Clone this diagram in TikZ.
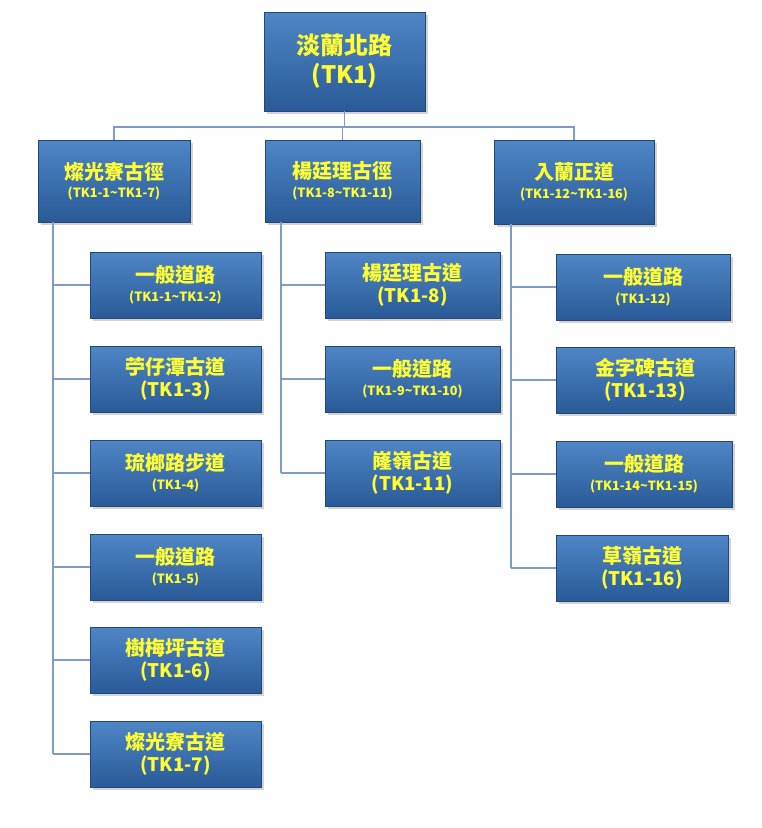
\documentclass[tikz,border=0pt]{standalone}
\usepackage{fontspec}
\newfontfamily\cjk{Noto Sans CJK TC}
\usetikzlibrary{shadows}
\definecolor{BoxTop}{HTML}{4F86C6}
\definecolor{BoxBot}{HTML}{2A5A98}
\definecolor{Wire}{HTML}{7F9CC8}
\definecolor{Label}{HTML}{FFFF33}
\tikzset{
  % blue boxes with yellow text
  tbox/.style={
    draw=BoxBot!80!black,thin,
    top color=BoxTop,bottom color=BoxBot,
    drop shadow={opacity=.35,shadow xshift=.5ex,shadow yshift=-.5ex},
    text=Label,align=center,inner sep=0pt,
    font=\cjk\bfseries,
  },
  wire/.style={Wire,thick},
}
\newcommand{\twobig}[2]{{\fontsize{15}{20}\selectfont #1}\\[2pt]{\fontsize{14}{18}\selectfont #2}}
\newcommand{\twosml}[2]{{\fontsize{15}{20}\selectfont #1}\\[2pt]{\fontsize{9.5}{12}\selectfont #2}}
\begin{document}
\begin{tikzpicture}[x=0.75pt,y=-0.75pt]
  \useasboundingbox (0,0) rectangle (762,828);
  % root
  \node[tbox,minimum width=161*0.75pt,minimum height=99*0.75pt] (root) at (344.5,61.5)
    {{\fontsize{18}{24}\selectfont 淡蘭北路}\\[4pt]{\fontsize{18}{24}\selectfont (TK1)}};
  % level one
  \node[tbox,minimum width=152*0.75pt,minimum height=82*0.75pt] (gl) at (114,181) {\twosml{燦光寮古徑}{(TK1-1\textasciitilde TK1-7)}};
  \node[tbox,minimum width=155*0.75pt,minimum height=82*0.75pt] (yl) at (342.5,181) {\twosml{楊廷理古徑}{(TK1-8\textasciitilde TK1-11)}};
  \node[tbox,minimum width=160*0.75pt,minimum height=84*0.75pt] (rl) at (574,182) {\twosml{入蘭正道}{(TK1-12\textasciitilde TK1-16)}};
  % left branch
  \node[tbox,minimum width=171*0.75pt,minimum height=66*0.75pt] (g1) at (175.5,285) {\twosml{一般道路}{(TK1-1\textasciitilde TK1-2)}};
  \node[tbox,minimum width=171*0.75pt,minimum height=66*0.75pt] (g2) at (175.5,379) {\twobig{苧仔潭古道}{(TK1-3)}};
  \node[tbox,minimum width=171*0.75pt,minimum height=66*0.75pt] (g3) at (175.5,473) {\twosml{琉榔路步道}{(TK1-4)}};
  \node[tbox,minimum width=171*0.75pt,minimum height=66*0.75pt] (g4) at (175.5,567) {\twosml{一般道路}{(TK1-5)}};
  \node[tbox,minimum width=171*0.75pt,minimum height=66*0.75pt] (g5) at (175.5,660) {\twobig{樹梅坪古道}{(TK1-6)}};
  \node[tbox,minimum width=171*0.75pt,minimum height=66*0.75pt] (g6) at (175.5,754) {\twobig{燦光寮古道}{(TK1-7)}};
  % middle branch
  \node[tbox,minimum width=175*0.75pt,minimum height=66*0.75pt] (y1) at (412.5,285) {\twobig{楊廷理古道}{(TK1-8)}};
  \node[tbox,minimum width=175*0.75pt,minimum height=66*0.75pt] (y2) at (412.5,379) {\twosml{一般道路}{(TK1-9\textasciitilde TK1-10)}};
  \node[tbox,minimum width=175*0.75pt,minimum height=66*0.75pt] (y3) at (412.5,473) {\twobig{嶐嶺古道}{(TK1-11)}};
  % right branch
  \node[tbox,minimum width=174*0.75pt,minimum height=66*0.75pt] (r1) at (643,287) {\twosml{一般道路}{(TK1-12)}};
  \node[tbox,minimum width=178*0.75pt,minimum height=66*0.75pt] (r2) at (645,380) {\twobig{金字碑古道}{(TK1-13)}};
  \node[tbox,minimum width=176*0.75pt,minimum height=66*0.75pt] (r3) at (644,474) {\twosml{一般道路}{(TK1-14\textasciitilde TK1-15)}};
  \node[tbox,minimum width=172*0.75pt,minimum height=66*0.75pt] (r4) at (642,568) {\twobig{草嶺古道}{(TK1-16)}};

  % connectors
  \coordinate (bus) at (0,127);
  \draw[wire] (root.south) -- (root.south |- bus);
  \draw[wire] (gl.north) -- (gl.north |- bus) -- (rl.north |- bus) -- (rl.north);
  \draw[wire] (yl.north) -- (yl.north |- bus);
  \foreach \n in {g1,g2,g3,g4,g5,g6}
    \draw[wire] (53,0 |- \n.west) -- (\n.west);
  \draw[wire] (53,0 |- gl.south) -- (53,0 |- g6.west);
  \foreach \n in {y1,y2,y3}
    \draw[wire] (281,0 |- \n.west) -- (\n.west);
  \draw[wire] (281,0 |- yl.south) -- (281,0 |- y3.west);
  \foreach \n in {r1,r2,r3,r4}
    \draw[wire] (511,0 |- \n.west) -- (\n.west);
  \draw[wire] (511,0 |- rl.south) -- (511,0 |- r4.west);
\end{tikzpicture}
\end{document}
